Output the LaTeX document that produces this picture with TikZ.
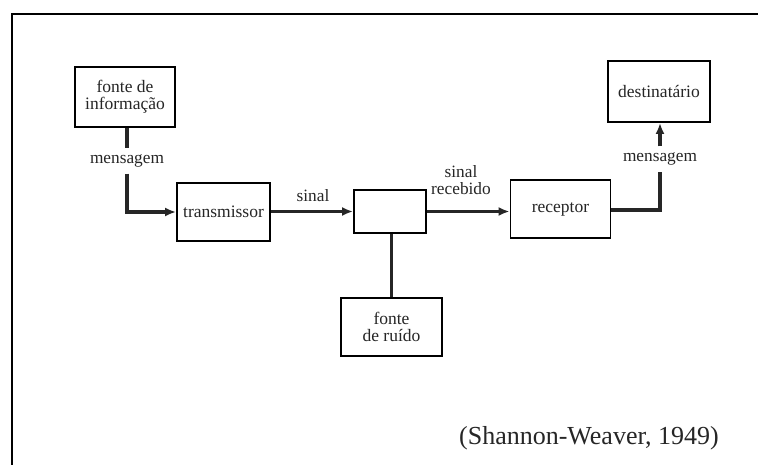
\documentclass[tikz,border=0pt]{standalone}
\usepackage{fontspec}
\setmainfont{Liberation Serif}
\usetikzlibrary{arrows.meta}
\definecolor{ink}{HTML}{262626}
\begin{document}
\begin{tikzpicture}[x=1pt,y=-1pt,
  block/.style={draw=black,line width=1.9pt,minimum width=#1,inner sep=0pt,align=center,
    text=ink,font=\fontsize{17.5}{17}\selectfont},
  lbl/.style={text=ink,inner sep=1pt,align=center,font=\fontsize{17.3}{17}\selectfont},
  flow/.style={draw=ink,line width=3.8pt},
  tip/.style={-{Latex[length=11pt,width=9pt]}}]
\useasboundingbox (0,0) rectangle (758,465);
\fill[white] (0,0) rectangle (758,465);
% frame edges
\draw[line width=2.6pt] (12,465) -- (12,14) -- (758,14);

% blocks
\node[block=100pt,minimum height=60pt] (info) at (125,97) {fonte de\\informação};
\node[block=93pt,minimum height=58pt] (trans) at (223.5,212) {transmissor};
\node[block=72pt,minimum height=43pt] (mid) at (390,211.5) {};
\node[block=100pt,minimum height=58pt] (rec) at (560.5,209) {receptor};
\node[block=102pt,minimum height=61pt] (dest) at (659,91.5) {destinatário};
\node[block=101pt,minimum height=58pt] (noise) at (391.5,327) {fonte\\de ruído};

% labels
\node[lbl] (msg1) at (127,161) {mensagem};
\node[lbl] (sig) at (313,196) {sinal};
\node[lbl] (rsig) at (461,180) {sinal\\recebido};
\node[lbl] (msg2) at (660,159) {mensagem};
\node[text=ink,inner sep=0pt,font=\fontsize{26}{27}\selectfont] (src) at (589,438) {(Shannon-Weaver, 1949)};

% message path from the source
\draw[flow] (info.south -| msg1) -- ([yshift=5pt]msg1.north);
\draw[flow,tip] ([yshift=-5pt]msg1.south) |- (trans.west);
% signal path
\draw[flow,tip] (trans.east |- mid.west) -- (mid.west);
\draw[flow,tip] (mid.east) -- (mid.east -| rec.west);
% message path to the destination
\draw[flow] (rec.east |- 0,210) -| ([yshift=-5pt]msg2.south);
\draw[flow,tip] ([yshift=5pt]msg2.north) -- (msg2.north |- dest.south);
% noise source
\draw[draw=ink,line width=2.4pt] (mid.south -| noise.north) -- (noise.north);
\end{tikzpicture}
\end{document}
